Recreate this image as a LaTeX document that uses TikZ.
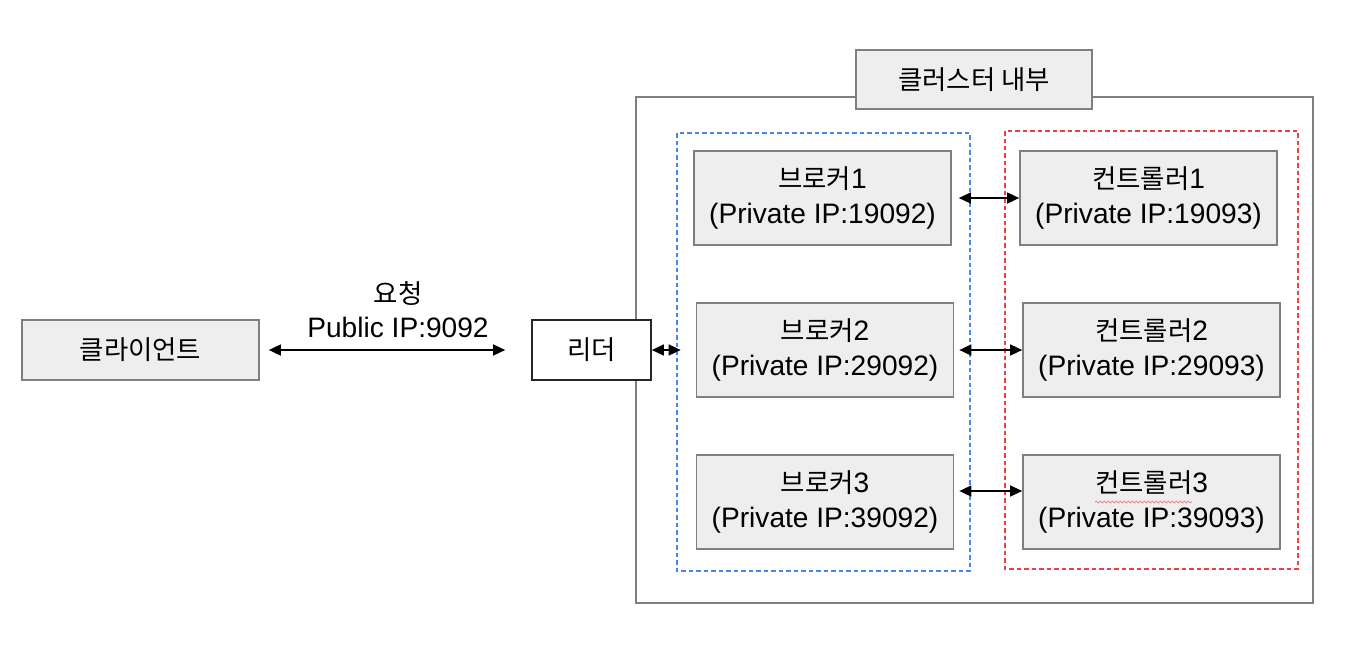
\documentclass[tikz,border=0pt]{standalone}
\usepackage{fontspec}
\setmainfont{Liberation Sans}
\newfontfamily\kr{Noto Sans CJK KR}[Scale=0.94]
\usetikzlibrary{arrows.meta,decorations.pathmorphing}
\definecolor{boxfill}{HTML}{EEEEEE}
\definecolor{boxline}{HTML}{7F7F7F}
\definecolor{brokerblue}{HTML}{4A86E8}
\definecolor{ctrlred}{HTML}{E8423B}

\begin{document}
\begin{tikzpicture}[x=0.02cm,y=-0.02cm,
  font=\fontsize{16}{19.5}\selectfont,
  gbox/.style={draw=boxline,fill=boxfill,line width=1pt,align=center,inner sep=0pt},
  srv/.style={gbox,minimum width=5.14cm,minimum height=1.88cm},
  link/.style={<->,line width=0.9pt,>={Triangle[length=0.24cm,width=0.22cm]}},
  group/.style={line width=0.8pt,dash pattern=on 0.09cm off 0.06cm}]
\useasboundingbox (0,0) rectangle (1354,666);

\draw[boxline,line width=1pt] (636,97) rectangle (1313,603);
\draw[group,brokerblue] (677,133) rectangle (970,571);
\draw[group,ctrlred] (1005,131) rectangle (1298,569);

\node[gbox,minimum width=4.72cm,minimum height=1.18cm] (title) at (974,79.5) {{\kr 클러스터 내부}};
\node[gbox,minimum width=4.74cm,minimum height=1.2cm] (client) at (140.5,350) {{\kr 클라이언트}};
\node[gbox,fill=white,draw=black!85,minimum width=2.38cm,minimum height=1.2cm] (leader) at (591.5,350) {{\kr 리더}};

\node[srv] (b1) at (822.5,198) {{\kr 브로커}1\\(Private IP:19092)};
\node[srv] (b2) at (825,350) {{\kr 브로커}2\\(Private IP:29092)};
\node[srv] (b3) at (825,502) {{\kr 브로커}3\\(Private IP:39092)};

\node[srv] (c1) at (1148.5,198) {{\kr 컨트롤러}1\\(Private IP:19093)};
\node[srv] (c2) at (1151.5,350) {{\kr 컨트롤러}2\\(Private IP:29093)};
\node[srv] (c3) at (1151.5,502) {{\kr 컨트롤러}3\\(Private IP:39093)};

\node[align=center] (req) at (398,309.5) {{\kr 요청}\\Public IP:9092};

\draw[link] ([xshift=0.18cm]client.east) -- ([xshift=-0.52cm]leader.west);
\draw[link] (leader.east) -- ([xshift=-0.3cm]b2.west);
\draw[link] ([xshift=0.14cm]b1.east) -- (c1.west);
\draw[link] ([xshift=0.1cm]b2.east) -- (c2.west);
\draw[link] ([xshift=0.1cm,yshift=0.22cm]b3.east) -- ([yshift=0.22cm]c3.west);

\draw[ctrlred!70,line width=0.4pt,decorate,decoration={snake,amplitude=0.02cm,segment length=0.08cm}]
  ([xshift=-1.13cm]c3.center) -- ([xshift=0.81cm]c3.center);
\end{tikzpicture}
\end{document}
